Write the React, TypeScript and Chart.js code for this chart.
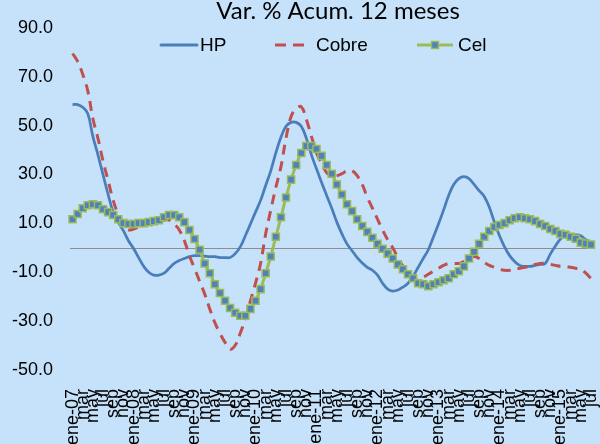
import React, { useEffect, useRef } from 'react';
import { Chart, registerables } from 'chart.js';

Chart.register(...registerables);

const monthNames = ['ene', 'feb', 'mar', 'abr', 'may', 'jun', 'jul', 'ago', 'sep', 'oct', 'nov', 'dic'];
const years = ['07', '08', '09', '10', '11', '12', '13', '14', '15'];
const monthCount = 103; // ene-07 .. jul-15

const categories: string[] = [];
for (let i = 0; i < monthCount; i++) {
  const m = i % 12;
  const y = years[Math.floor(i / 12)];
  categories.push(m === 0 ? `${monthNames[m]}-${y}` : monthNames[m]);
}

const titleText = 'Var. % Acum. 12 meses';
const seriesNames = ['HP', 'Cobre', 'Cel'];

const hpValues = [
  58.6, 58.6, 57.5, 54.9, 45.6, 38.0, 29.9, 21.8, 14.6, 10.5, 7.0, 2.9,
  -0.3, -4.0, -7.6, -10.0, -11.2, -11.2, -10.4, -8.4, -6.4, -5.2, -4.4, -3.6,
  -3.2, -3.2, -3.4, -3.6, -3.6, -4.0, -4.0, -4.0, -2.4, 0.4, 4.9, 9.7,
  14.6, 19.4, 25.5, 31.5, 38.8, 45.2, 49.7, 51.3, 51.3, 49.7, 44.8, 38.0,
  32.3, 26.7, 21.4, 16.2, 10.5, 5.7, 1.6, -1.2, -4.0, -6.2, -8.0, -9.2,
  -11.2, -14.5, -16.9, -17.7, -17.3, -16.1, -14.5, -11.7, -8.0, -4.4, -0.8, 4.4,
  9.7, 15.4, 21.4, 25.9, 28.3, 29.1, 28.3, 25.9, 23.4, 21.0, 16.6, 10.5,
  4.9, 0.4, -3.2, -5.6, -7.2, -7.6, -7.6, -7.2, -6.8, -6.4, -2.6, 0.7,
  3.6, 4.9, 5.3, 5.3, 4.9, 3.3, 2.1,
];

const cobreValues = [
  79.5, 76.3, 71.0, 64.2, 52.9, 44.8, 35.5, 27.5, 19.4, 13.4, 8.9, 7.3,
  7.7, 8.5, 9.3, 9.7, 10.1, 10.5, 11.3, 11.3, 9.7, 7.3, 2.9, -3.2,
  -8.4, -13.7, -18.9, -25.0, -30.6, -35.0, -38.7, -41.5, -39.9, -35.0, -29.0, -21.7,
  -14.5, -6.4, 5.7, 15.4, 24.7, 33.1, 44.8, 53.7, 56.9, 57.7, 52.5, 45.6,
  38.8, 34.7, 30.7, 29.5, 29.5, 30.3, 31.5, 31.5, 29.5, 25.9, 20.6, 16.2,
  11.7, 7.3, 3.3, 0.0, -4.0, -7.6, -10.4, -12.5, -12.9, -12.1, -10.8, -9.6,
  -8.4, -7.2, -6.4, -6.4, -6.4, -5.6, -4.4, -3.6, -4.4, -6.0, -7.2, -8.0,
  -8.8, -9.2, -9.2, -8.8, -8.4, -8.0, -7.6, -6.8, -6.4, -6.4, -6.8, -7.2,
  -7.6, -7.6, -8.0, -8.4, -8.8, -10.4, -12.5,
];

const celValues = [
  11.7, 13.8, 16.2, 17.4, 17.8, 17.4, 15.8, 14.6, 13.4, 11.7, 10.1, 9.7,
  9.7, 10.1, 10.1, 10.5, 10.9, 11.3, 12.5, 13.4, 13.4, 12.5, 10.5, 7.3,
  3.6, -0.8, -6.4, -10.4, -14.9, -18.5, -21.7, -24.6, -26.6, -27.8, -27.8, -25.0,
  -21.7, -16.9, -10.4, -3.6, 4.5, 12.5, 20.6, 27.9, 33.9, 38.8, 41.6, 41.6,
  40.4, 37.6, 33.9, 30.3, 25.9, 21.8, 17.8, 15.0, 11.7, 8.9, 6.5, 4.1,
  1.6, -0.4, -2.4, -4.4, -6.8, -8.8, -10.8, -12.5, -14.5, -14.9, -15.7, -14.9,
  -14.1, -13.3, -12.5, -10.8, -9.6, -7.6, -4.4, -1.6, 1.6, 4.5, 6.9, 8.5,
  9.3, 10.1, 11.3, 12.1, 12.5, 12.1, 11.7, 10.9, 9.7, 8.9, 7.7, 6.9,
  5.7, 5.3, 4.5, 3.7, 2.1, 1.7, 1.3,
];

const yMin = -50;
const yMax = 90;
const yStep = 20;

const BG = '#C6E2FA';
const HP_COLOR = '#4A7EBB';
const COBRE_COLOR = '#C0504D';
const CEL_LINE = '#9BBB59';
const CEL_MARK = '#4F81BD';
const AXIS_FONT = 'Liberation Sans, Arial, sans-serif';

const bgPlugin = {
  id: 'bgFill',
  beforeDraw(chart: any) {
    const { ctx, width, height } = chart;
    ctx.save();
    ctx.fillStyle = BG;
    ctx.fillRect(0, 0, width, height);
    ctx.restore();
  },
};

const zeroLinePlugin = {
  id: 'zeroLine',
  beforeDatasetsDraw(chart: any) {
    const { ctx, chartArea, scales } = chart;
    const y = Math.round(scales.y.getPixelForValue(0)) + 0.5;
    ctx.save();
    ctx.strokeStyle = '#8E8E8E';
    ctx.lineWidth = 1;
    ctx.beginPath();
    ctx.moveTo(chartArea.left, y);
    ctx.lineTo(chartArea.right, y);
    ctx.stroke();
    ctx.restore();
  },
};

const titleLegendPlugin = {
  id: 'titleLegend',
  afterDraw(chart: any) {
    const { ctx } = chart;
    ctx.save();
    // title
    ctx.fillStyle = '#000';
    ctx.font = '24px Lato, "Open Sans", sans-serif';
    ctx.textAlign = 'center';
    ctx.textBaseline = 'alphabetic';
    ctx.fillText(titleText, 338, 19);

    // legend
    const ly = 45;
    ctx.font = `19px ${AXIS_FONT}`;
    ctx.textAlign = 'left';
    ctx.textBaseline = 'middle';
    // HP
    ctx.strokeStyle = HP_COLOR;
    ctx.lineWidth = 3;
    ctx.lineCap = 'round';
    ctx.beginPath();
    ctx.moveTo(161, ly);
    ctx.lineTo(197, ly);
    ctx.stroke();
    ctx.fillStyle = '#000';
    ctx.fillText(seriesNames[0], 200, ly + 1);
    // Cobre
    ctx.strokeStyle = COBRE_COLOR;
    ctx.lineCap = 'butt';
    ctx.setLineDash([11, 7]);
    ctx.beginPath();
    ctx.moveTo(275, ly);
    ctx.lineTo(306, ly);
    ctx.stroke();
    ctx.setLineDash([]);
    ctx.fillText(seriesNames[1], 316, ly + 1);
    // Cel
    ctx.strokeStyle = CEL_LINE;
    ctx.beginPath();
    ctx.moveTo(417, ly);
    ctx.lineTo(453, ly);
    ctx.stroke();
    ctx.fillStyle = CEL_MARK;
    ctx.strokeStyle = CEL_LINE;
    ctx.lineWidth = 1.5;
    ctx.fillRect(431.5, ly - 3.5, 7, 7);
    ctx.strokeRect(431.5, ly - 3.5, 7, 7);
    ctx.fillStyle = '#000';
    ctx.fillText(seriesNames[2], 458, ly + 1);
    ctx.restore();
  },
};

export default function App() {
  const canvasRef = useRef<HTMLCanvasElement | null>(null);

  useEffect(() => {
    const canvas = canvasRef.current;
    if (!canvas) return;
    const chart = new Chart(canvas, {
      type: 'line',
      data: {
        labels: categories,
        datasets: [
          {
            label: seriesNames[0],
            data: hpValues,
            borderColor: HP_COLOR,
            borderWidth: 2.75,
            pointRadius: 0,
            tension: 0.4,
            fill: false,
            order: 3,
          },
          {
            label: seriesNames[1],
            data: cobreValues,
            borderColor: COBRE_COLOR,
            borderWidth: 3,
            borderDash: [10, 7],
            pointRadius: 0,
            tension: 0.4,
            fill: false,
            order: 2,
          },
          {
            label: seriesNames[2],
            data: celValues,
            borderColor: CEL_LINE,
            borderWidth: 3,
            pointStyle: 'rect',
            pointRadius: 5,
            pointBackgroundColor: CEL_MARK,
            pointBorderColor: CEL_LINE,
            pointBorderWidth: 1.5,
            tension: 0.4,
            fill: false,
            order: 1,
          },
        ],
      },
      options: {
        responsive: false,
        animation: false,
        devicePixelRatio: 1,
        layout: { padding: { top: 21, right: 0, left: 0, bottom: 0 } },
        plugins: {
          legend: { display: false },
          title: { display: false },
          tooltip: { enabled: false },
        },
        scales: {
          x: {
            type: 'category',
            offset: true,
            grid: { display: false, drawTicks: false },
            border: { display: false },
            ticks: {
              autoSkip: false,
              minRotation: 90,
              maxRotation: 90,
              padding: 19,
              color: '#000',
              font: { family: AXIS_FONT, size: 18 },
              callback: (_v: any, index: number) => (index % 2 === 0 ? categories[index] : ''),
            },
            afterFit: (scale: any) => {
              scale.height = 74;
              scale.paddingLeft = 0;
              scale.paddingRight = 0;
            },
          },
          y: {
            min: yMin,
            max: yMax,
            grid: { display: false, drawTicks: false },
            border: { display: false },
            ticks: {
              stepSize: yStep,
              padding: 17,
              color: '#000',
              font: { family: AXIS_FONT, size: 18 },
              callback: (v: any) => Number(v).toFixed(1),
            },
            afterFit: (scale: any) => {
              scale.width = 70;
            },
          },
        },
      },
      plugins: [bgPlugin, zeroLinePlugin, titleLegendPlugin],
    });
    return () => chart.destroy();
  }, []);

  return (
    <div style={{ position: 'absolute', left: 0, top: 0, width: 600, height: 444, overflow: 'hidden', background: BG }}>
      <canvas ref={canvasRef} width={600} height={444} style={{ display: 'block', width: 600, height: 444 }} />
    </div>
  );
}
